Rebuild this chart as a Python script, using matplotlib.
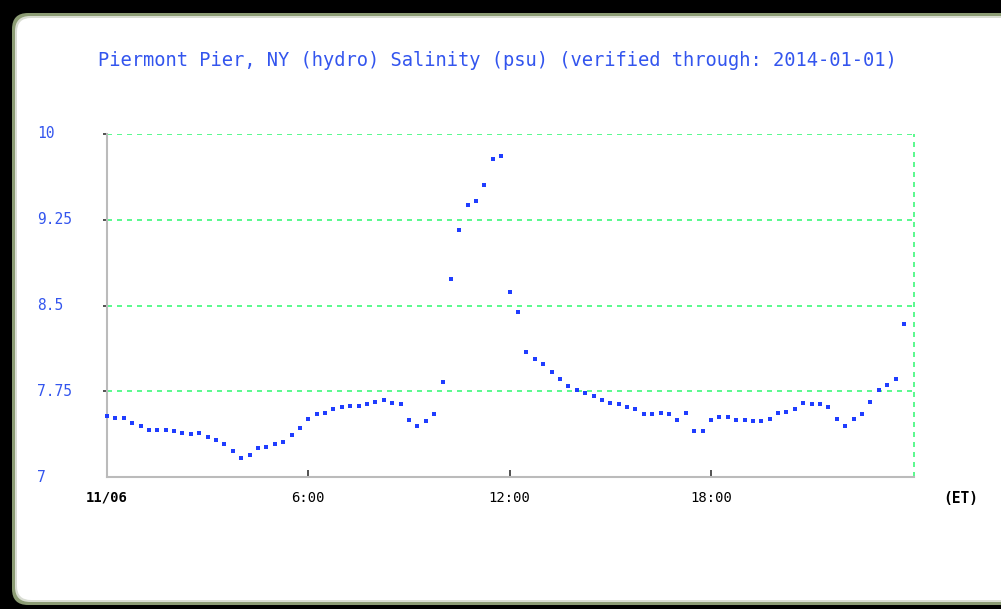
import numpy as np
import matplotlib
matplotlib.use('Agg')
import matplotlib.pyplot as plt
from matplotlib.patches import FancyBboxPatch

# 15-minute salinity readings, 11/06 00:00 -> 23:45
hours = np.arange(96) * 0.25
salinity = [
    7.536, 7.513, 7.513, 7.475, 7.449, 7.411, 7.411, 7.411, 7.400, 7.387,
    7.376, 7.387, 7.350, 7.326, 7.289, 7.227, 7.166, 7.192, 7.251, 7.265,
    7.289, 7.303, 7.365, 7.426, 7.510, 7.548, 7.560, 7.597, 7.610, 7.621,
    7.621, 7.636, 7.659, 7.671, 7.647, 7.636, 7.499, 7.449, 7.487, 7.548,
    7.831, 8.729, 9.158, 9.379, 9.417, 9.551, 9.784, 9.810, 8.615, 8.446,
    8.091, 8.029, 7.991, 7.918, 7.857, 7.796, 7.758, 7.735, 7.708, 7.671,
    7.647, 7.636, 7.610, 7.597, 7.548, 7.548, 7.560, 7.548, 7.499, 7.560,
    7.400, 7.400, 7.499, 7.525, 7.525, 7.499, 7.499, 7.487, 7.487, 7.510,
    7.560, 7.571, 7.597, 7.647, 7.636, 7.636, 7.610, 7.510, 7.449, 7.510,
    7.548, 7.659, 7.758, 7.807, 7.857, 8.336]

ytick_vals = [7, 7.75, 8.5, 9.25, 10]
ytick_labels = ['7', '7.75', '8.5', '9.25', '10']
xtick_vals = [0, 6, 12, 18]
xtick_labels = ['11/06', '6:00', '12:00', '18:00']
title = 'Piermont Pier, NY (hydro) Salinity (psu) (verified through: 2014-01-01)'

blue_txt = '#3355ee'
dot_blue = '#1f3dff'
grid_green = '#3dfa7a'
mono = 'DejaVu Sans Mono'

fig = plt.figure(figsize=(10.01, 6.09), dpi=100)
fig.patch.set_facecolor('black')

# frame: green border, soft edge, white panel (pixel coords), kept behind the axes
frame = [((12, 4), 592, 16, '#8c9c74'),
         ((15, 7), 586, 15, '#d9ddd3'),
         ((17, 9), 582, 14, 'white')]
for xy, h, r, c in frame:
    fig.patches.append(FancyBboxPatch(xy, 1010, h, boxstyle='round,pad=0,rounding_size=%d' % r,
                                      transform=None, facecolor=c, edgecolor='none',
                                      figure=fig, zorder=-10))

ax = fig.add_axes([107/1001, 132/609, 807/1001, 343/609])
ax.set_zorder(5)
ax.set_facecolor('none')
ax.set_xlim(0, 24.05)
ax.set_ylim(7, 10)

for v in ytick_vals[1:]:
    ax.axhline(v, color=grid_green, lw=1.2, ls=(0, (3, 3)), zorder=1)
ax.axvline(24.05, color=grid_green, lw=1.2, ls=(0, (3, 3)), zorder=1, clip_on=False)

ax.plot(hours, salinity, 's', color=dot_blue, markersize=3.2, markeredgewidth=0, zorder=3, clip_on=False)

for s in ['top', 'right']:
    ax.spines[s].set_visible(False)
for s in ['left', 'bottom']:
    ax.spines[s].set_color('#bbbbbb')
    ax.spines[s].set_linewidth(1.5)

# y ticks only at the gridlines, labels left-aligned like the original
ax.set_yticks(ytick_vals[1:])
ax.set_yticklabels([])
ax.tick_params(axis='y', direction='out', length=3, width=1.2, color='#333333')
for v, lab in zip(ytick_vals, ytick_labels):
    ax.text(-0.0867, v, lab, transform=ax.get_yaxis_transform(), ha='left', va='center',
            fontsize=10.5, family=mono, color=blue_txt, clip_on=False)

ax.set_xticks(xtick_vals)
ax.set_xticklabels(xtick_labels, family=mono, fontsize=10, color='black')
ax.get_xticklabels()[0].set_fontweight('bold')
ax.tick_params(axis='x', direction='in', length=5, width=1.2, color='#333333', pad=10)
ax.xaxis.get_major_ticks()[0].tick1line.set_visible(False)
ax.text(25.43, -0.063, '(ET)', transform=ax.get_xaxis_transform(), ha='center', va='center',
        fontsize=10.5, family=mono, fontweight='bold', color='black', clip_on=False)

fig.text(497/1001, 1 - 61/609, title, ha='center', va='center', fontsize=13.5,
         family=mono, color=blue_txt, zorder=6)

fig.savefig('out.png', dpi=100, facecolor=fig.get_facecolor())
